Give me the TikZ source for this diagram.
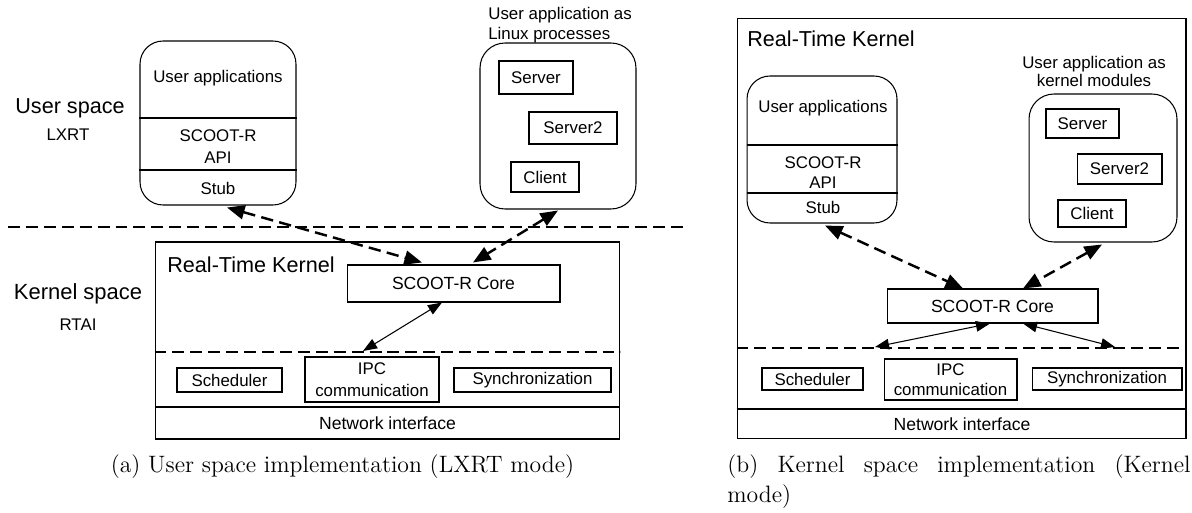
\documentclass[tikz,border=0pt]{standalone}
\usepackage{fontspec}
\newfontfamily\hv{Liberation Sans}
\usetikzlibrary{arrows.meta,calc}
\tikzset{
  box/.style={draw, line width=0.6pt, inner sep=0pt, rectangle, font=\hv\fontsize{9.6}{12.5}\selectfont, align=center},
  rbox/.style={draw, line width=0.6pt, rounded corners=0.46cm, inner sep=0pt, rectangle},
  lbl/.style={font=\hv\fontsize{9.6}{12.5}\selectfont, inner sep=0pt, align=center},
  big/.style={font=\hv\fontsize{12.3}{14}\selectfont, inner sep=0pt},
  sepline/.style={line width=1.7pt, dash pattern=on 6.8pt off 3.4pt},
  thinline/.style={line width=0.6pt},
  darr/.style={line width=1.4pt, dash pattern=on 7pt off 3.6pt, {Triangle[length=10pt,width=8pt]}-{Triangle[length=10pt,width=8pt]}},
  tarr/.style={line width=0.6pt, {Triangle[length=8pt,width=6pt]}-{Triangle[length=8pt,width=6pt]}},
  captext/.style={font=\fontsize{13.5}{17}\selectfont, inner sep=0pt}
}
\begin{document}
\begin{tikzpicture}[x=0.02cm, y=-0.02cm]
\useasboundingbox (0,0) rectangle (1192,513);

% ================= (a) =================
\node[big] (us) at (70,108) {User space};
\node[lbl] (lxrt) at (68,135) {LXRT};
\node[big, font=\hv\fontsize{12.5}{14}\selectfont] (ks) at (78,294) {Kernel space};
\node[lbl] (rtai) at (78,325) {RTAI};

% user applications box
\node[rbox, minimum width=3.12cm, minimum height=3.28cm] (ua) at (218,123) {};
\coordinate (uay1) at (0,118);
\coordinate (uay2) at (0,170);
\draw[thinline] (ua.west |- uay1) -- (ua.east |- uay1);
\draw[thinline] (ua.west |- uay2) -- (ua.east |- uay2);
\node[lbl] (uat) at (218,78) {User applications};
\node[lbl] (uapi) at (218,147) {SCOOT-R\\API};
\node[lbl] (ustub) at (218,188) {Stub};

% Linux processes
\node[lbl, anchor=west, align=left, font=\hv\fontsize{9.6}{11.3}\selectfont] (lpt) at (488,25) {User application as\\Linux processes};
\node[rbox, rounded corners=0.5cm, minimum width=3.12cm, minimum height=3.32cm] (lp) at (558,126) {};
\node[box, minimum width=1.48cm, minimum height=0.66cm] (srvA) at (536,77.5) {Server};
\node[box, minimum width=1.76cm, minimum height=0.64cm] (srv2A) at (573,128) {Server2};
\node[box, minimum width=1.36cm, minimum height=0.60cm] (cliA) at (545,177) {Client};

% separator
\coordinate (sepL) at (8,227);
\coordinate (sepR) at (687,227);
\draw[sepline] (sepL) -- (sepR);

% kernel box
\node[rbox, rounded corners=0pt, minimum width=9.3cm, minimum height=3.94cm] (kernA) at (387.5,340.5) {};
\node[big, anchor=west] (rtkA) at (167,265) {Real-Time Kernel};
\node[box, font=\hv\fontsize{10}{12}\selectfont, minimum width=4.26cm, minimum height=0.74cm] (coreA) at (453.5,283.5) {SCOOT-R Core};
\coordinate (kyA) at (0,352);
\draw[sepline] (kernA.west |- kyA) -- (kernA.east |- kyA);
\coordinate (nyA) at (0,407);
\draw[thinline] (kernA.west |- nyA) -- (kernA.east |- nyA);
\node[lbl, font=\hv\fontsize{10}{12}\selectfont] (netA) at (387.5,423) {Network interface};
\node[box, minimum width=2.10cm, minimum height=0.48cm] (schA) at (229.5,380) {Scheduler};
\node[box, minimum width=2.68cm, minimum height=0.90cm] (ipcA) at (372,379.5) {IPC\\communication};
\node[box, minimum width=3.14cm, minimum height=0.48cm] (syncA) at (532.5,380) {Synchronization};

% arrows (a)
\draw[darr] ($(ua.south)+(9,2)$) -- ($(coreA.north)+(-31.5,-2)$);
\draw[darr] ($(lp.south)+(0,1)$) -- ($(coreA.north)+(19.5,-2)$);
\coordinate (tipA) at (363,351);
\draw[tarr] ($(coreA.south)+(-11.5,0)$) -- (tipA);

\node[captext] (capA) at (342.5,467) {(a) User space implementation (LXRT mode)};

% ================= (b) =================
\node[rbox, rounded corners=0pt, minimum width=8.98cm, minimum height=8.42cm] (kernB) at (961.5,228.5) {};
\node[big, anchor=west] (rtkB) at (747,39) {Real-Time Kernel};
\node[lbl, font=\hv\fontsize{9.6}{9.8}\selectfont] (kmt) at (1094,71.5) {User application as\\kernel modules};

\node[rbox, minimum width=3.0cm, minimum height=2.94cm] (uaB) at (822,149.5) {};
\coordinate (uby1) at (0,145);
\coordinate (uby2) at (0,193);
\draw[thinline] (uaB.west |- uby1) -- (uaB.east |- uby1);
\draw[thinline] (uaB.west |- uby2) -- (uaB.east |- uby2);
\node[lbl] (ubt) at (823,108) {User applications};
\node[lbl, font=\hv\fontsize{9.6}{11.3}\selectfont] (ubapi) at (823,173) {SCOOT-R\\API};
\node[lbl] (ubstub) at (823,207) {Stub};

\node[rbox, rounded corners=0.5cm, minimum width=2.96cm, minimum height=2.96cm] (kmB) at (1103,168) {};
\node[box, minimum width=1.46cm, minimum height=0.58cm] (srvB) at (1082.5,123.5) {Server};
\node[box, minimum width=1.70cm, minimum height=0.60cm] (srv2B) at (1119.5,169) {Server2};
\node[box, minimum width=1.36cm, minimum height=0.54cm] (cliB) at (1092,213.5) {Client};

\node[box, font=\hv\fontsize{10}{12}\selectfont, minimum width=4.22cm, minimum height=0.68cm] (coreB) at (992.5,306) {SCOOT-R Core};
\coordinate (kyB) at (0,348);
\draw[sepline] (kernB.west |- kyB) -- (kernB.east |- kyB);
\coordinate (nyB) at (0,409);
\draw[thinline] (kernB.west |- nyB) -- (kernB.east |- nyB);
\node[lbl, font=\hv\fontsize{10}{12}\selectfont] (netB) at (962,424) {Network interface};
\node[box, minimum width=2.02cm, minimum height=0.44cm] (schB) at (812.5,379) {Scheduler};
\node[box, minimum width=2.66cm, minimum height=0.82cm, font=\hv\fontsize{9.6}{11.3}\selectfont] (ipcB) at (950.5,379.5) {IPC\\communication};
\node[box, minimum width=3.0cm, minimum height=0.44cm] (syncB) at (1107,379) {Synchronization};

% arrows (b)
\draw[darr] ($(uaB.south)+(3,2)$) -- ($(coreB.north)+(-29.5,0)$);
\draw[darr] ($(kmB.south)+(-1,2)$) -- ($(coreB.north)+(30.5,0)$);
\coordinate (tipBL) at (875,347);
\coordinate (tipBR) at (1115,347);
\draw[tarr] ($(coreB.south)+(-2.5,0)$) -- (tipBL);
\draw[tarr] ($(coreB.south)+(30.5,0)$) -- (tipBR);

\node[captext, anchor=west] (capB1) at (727,467) {\makebox[263.7pt][s]{(b) Kernel space implementation (Kernel}};
\node[captext, anchor=west] (capB2) at (727,497) {mode)};
\end{tikzpicture}
\end{document}
